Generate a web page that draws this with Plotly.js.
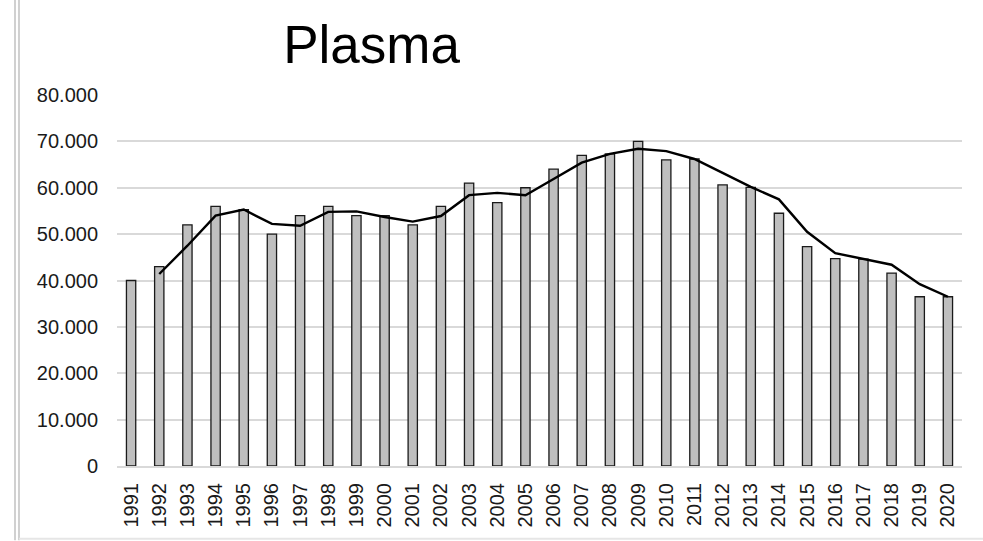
<!DOCTYPE html>
<html>
<head>
<meta charset="utf-8">
<script src="https://cdn.plot.ly/plotly-3.0.1.min.js"></script>
<style>
html,body{margin:0;padding:0;background:#fff;}
#chart{width:983px;height:541px;}
</style>
</head>
<body>
<div id="chart"></div>
<script>
const years = ["1991","1992","1993","1994","1995","1996","1997","1998","1999","2000",
  "2001","2002","2003","2004","2005","2006","2007","2008","2009","2010",
  "2011","2012","2013","2014","2015","2016","2017","2018","2019","2020"];
const plasma = [40000,43000,52000,56000,55300,50000,54000,56000,54000,54000,
  52000,56000,61000,56800,60000,64000,67000,67300,70000,66000,
  66200,60600,60100,54500,47300,44700,44600,41600,36500,36500];
const trendYears = ["1992","1993","1994","1995","1996","1997","1998","1999","2000",
  "2001","2002","2003","2004","2005","2006","2007","2008","2009","2010",
  "2011","2012","2013","2014","2015","2016","2017","2018","2019","2020"];
const trend = [41400,47500,54000,55300,52200,51800,54800,54900,53700,
  52700,53900,58400,58900,58400,61900,65400,67300,68400,67900,
  66200,63200,60200,57500,50500,45900,44600,43400,39200,36500];
const yTicks = [0,10000,20000,30000,40000,50000,60000,70000,80000];

const font = "'Liberation Sans', Arial, sans-serif";
const traces = [
  {type:"bar", x:years, y:plasma, width:0.33,
   marker:{color:"#BFBFBF", line:{color:"#1a1a1a", width:1.3}},
   hoverinfo:"x+y", showlegend:false},
  {type:"scatter", mode:"lines", x:trendYears, y:trend,
   line:{color:"#000000", width:2.4}, showlegend:false}
];
const gray = "#D9D9D9";
const layout = {
  width:983, height:541,
  margin:{l:117, r:21, t:95, b:75},
  paper_bgcolor:"#ffffff", plot_bgcolor:"#ffffff",
  separators:",.",
  font:{family:font, color:"#1a1a1a"},
  title:{text:"Plasma", font:{family:font, size:53, color:"#000"},
         x:0.378, xanchor:"center", xref:"container",
         y:0.918, yanchor:"middle", yref:"container"},
  xaxis:{type:"category", tickangle:-90, tickfont:{size:20, color:"#1a1a1a"},
         showgrid:false, showline:true, linecolor:gray, linewidth:2,
         ticks:"", ticklabelstandoff:7, fixedrange:true},
  yaxis:{range:[0,80000], tickvals:yTicks, tickformat:",d",
         tickfont:{size:20, color:"#1a1a1a"},
         showgrid:true, gridcolor:gray, gridwidth:2, zeroline:false,
         showline:false, ticks:"", ticklabelstandoff:18, fixedrange:true},
  shapes:[
    {type:"line", xref:"paper", yref:"paper", x0:-0.1207, x1:-0.1207, y0:-0.2, y1:1.8, line:{color:"#D0D0D0", width:2}},
    {type:"line", xref:"paper", yref:"paper", x0:-0.1160, x1:-0.1160, y0:-0.2, y1:1.8, line:{color:"#D0D0D0", width:2}},
    {type:"line", xref:"paper", yref:"paper", x0:-0.1160, x1:0.169, y0:1.782, y1:1.782, line:{color:"#D9D9D9", width:2}},
    {type:"line", xref:"paper", yref:"paper", x0:0.802, x1:1.1, y0:1.782, y1:1.782, line:{color:"#D9D9D9", width:2}},
    {type:"line", xref:"paper", yref:"paper", x0:-0.1160, x1:1.1, y0:-0.196, y1:-0.196, line:{color:"#E6E6E6", width:2}}
  ],
  bargap:0.67
};
Plotly.newPlot("chart", traces, layout, {displayModeBar:false, staticPlot:true});
</script>
</body>
</html>
